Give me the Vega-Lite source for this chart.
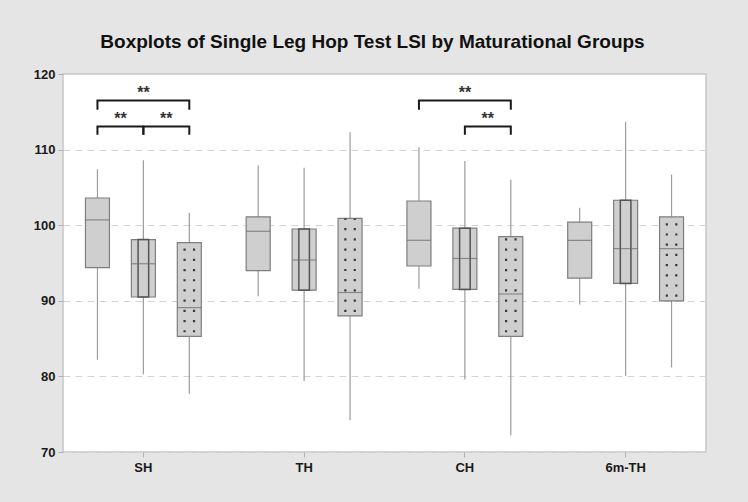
{
  "$schema": "https://vega.github.io/schema/vega-lite/v6.json",
  "width": 643,
  "height": 378,
  "autosize": {"type": "none"},
  "padding": {"left": 63, "top": 74, "right": 42, "bottom": 50},
  "background": "#e5e5e5",
  "title": {
    "text": "Boxplots of Single Leg Hop Test LSI by Maturational Groups",
    "font": "Liberation Sans",
    "fontSize": 19,
    "fontWeight": "bold",
    "color": "#111111",
    "anchor": "middle",
    "dx": -12,
    "offset": 16
  },
  "config": {
    "view": {"stroke": "#c6c6c6", "strokeWidth": 1.5, "fill": "white"},
    "axisY": {
      "labelFont": "Liberation Sans",
      "labelFontSize": 13,
      "labelFontWeight": "bold",
      "labelColor": "#1a1a1a",
      "labelPadding": 3,
      "tickColor": "#b0b0b0",
      "tickSize": 5,
      "domain": false,
      "grid": true,
      "gridDash": [7, 5],
      "gridColor": "#d4d4d4",
      "title": null
    },
    "axisX": {
      "labelFont": "Liberation Sans",
      "labelFontSize": 13,
      "labelFontWeight": "bold",
      "labelColor": "#1a1a1a",
      "labelPadding": 4,
      "labelAngle": 0,
      "tickColor": "#b0b0b0",
      "tickSize": 5,
      "domain": false,
      "grid": false,
      "title": null
    }
  },
  "datasets": {
    "boxes": [
      {"test": "SH", "grp": "Pre", "min": 82.2, "q1": 94.4, "median": 100.7, "q3": 103.6, "max": 107.4},
      {"test": "SH", "grp": "Mid", "min": 80.3, "q1": 90.5, "median": 94.9, "q3": 98.1, "max": 108.6},
      {"test": "SH", "grp": "Post", "min": 77.7, "q1": 85.3, "median": 89.1, "q3": 97.7, "max": 101.6},
      {"test": "TH", "grp": "Pre", "min": 90.6, "q1": 94.0, "median": 99.2, "q3": 101.1, "max": 107.9},
      {"test": "TH", "grp": "Mid", "min": 79.4, "q1": 91.4, "median": 95.4, "q3": 99.5, "max": 107.6},
      {"test": "TH", "grp": "Post", "min": 74.2, "q1": 88.0, "median": 91.1, "q3": 100.9, "max": 112.3},
      {"test": "CH", "grp": "Pre", "min": 91.6, "q1": 94.6, "median": 98.0, "q3": 103.2, "max": 110.3},
      {"test": "CH", "grp": "Mid", "min": 79.6, "q1": 91.5, "median": 95.6, "q3": 99.6, "max": 108.5},
      {"test": "CH", "grp": "Post", "min": 72.2, "q1": 85.3, "median": 90.9, "q3": 98.5, "max": 106.0},
      {"test": "6m-TH", "grp": "Pre", "min": 89.5, "q1": 93.0, "median": 98.0, "q3": 100.4, "max": 102.3},
      {"test": "6m-TH", "grp": "Mid", "min": 80.1, "q1": 92.3, "median": 96.9, "q3": 103.3, "max": 113.7},
      {"test": "6m-TH", "grp": "Post", "min": 81.2, "q1": 90.0, "median": 96.9, "q3": 101.1, "max": 106.7}
    ],
    "brackets": [
      {"id": "SH-a", "test": "SH", "grp": "Pre", "y": 115.4, "ord": 1},
      {"id": "SH-a", "test": "SH", "grp": "Pre", "y": 116.5, "ord": 2},
      {"id": "SH-a", "test": "SH", "grp": "Post", "y": 116.5, "ord": 3},
      {"id": "SH-a", "test": "SH", "grp": "Post", "y": 115.4, "ord": 4},
      {"id": "SH-b", "test": "SH", "grp": "Pre", "y": 112.1, "ord": 1},
      {"id": "SH-b", "test": "SH", "grp": "Pre", "y": 113.05, "ord": 2},
      {"id": "SH-b", "test": "SH", "grp": "Mid", "y": 113.05, "ord": 3},
      {"id": "SH-b", "test": "SH", "grp": "Mid", "y": 112.1, "ord": 4},
      {"id": "SH-c", "test": "SH", "grp": "Mid", "y": 112.1, "ord": 1},
      {"id": "SH-c", "test": "SH", "grp": "Mid", "y": 113.05, "ord": 2},
      {"id": "SH-c", "test": "SH", "grp": "Post", "y": 113.05, "ord": 3},
      {"id": "SH-c", "test": "SH", "grp": "Post", "y": 112.1, "ord": 4},
      {"id": "CH-a", "test": "CH", "grp": "Pre", "y": 115.4, "ord": 1},
      {"id": "CH-a", "test": "CH", "grp": "Pre", "y": 116.5, "ord": 2},
      {"id": "CH-a", "test": "CH", "grp": "Post", "y": 116.5, "ord": 3},
      {"id": "CH-a", "test": "CH", "grp": "Post", "y": 115.4, "ord": 4},
      {"id": "CH-b", "test": "CH", "grp": "Mid", "y": 112.1, "ord": 1},
      {"id": "CH-b", "test": "CH", "grp": "Mid", "y": 113.05, "ord": 2},
      {"id": "CH-b", "test": "CH", "grp": "Post", "y": 113.05, "ord": 3},
      {"id": "CH-b", "test": "CH", "grp": "Post", "y": 112.1, "ord": 4}
    ],
    "stars": [
      {"test": "SH", "grp": "Mid", "y": 117.5, "label": "**"},
      {"test": "SH", "grp": "Pre-Mid", "y": 114.1, "label": "**"},
      {"test": "SH", "grp": "Mid-Post", "y": 114.1, "label": "**"},
      {"test": "CH", "grp": "Mid", "y": 117.5, "label": "**"},
      {"test": "CH", "grp": "Mid-Post", "y": 114.1, "label": "**"}
    ]
  },
  "encoding": {
    "x": {
      "field": "test",
      "type": "nominal",
      "sort": null,
      "scale": {"domain": ["SH", "TH", "CH", "6m-TH"], "paddingInner": 0, "paddingOuter": 0}
    },
    "xOffset": {
      "field": "grp",
      "type": "nominal",
      "scale": {"type": "band", "domain": ["Pre", "Pre-Mid", "Mid", "Mid-Post", "Post"], "paddingInner": 0, "paddingOuter": 1.08}
    }
  },
  "resolve": {"scale": {"xOffset": "independent"}},
  "layer": [
    {
      "data": {"name": "boxes"},
      "mark": {"type": "rule", "color": "#9c9c9c", "strokeWidth": 1.2},
      "encoding": {
        "y": {"field": "min", "type": "quantitative", "scale": {"domain": [70, 120], "nice": false, "zero": false}, "axis": {"values": [70, 80, 90, 100, 110, 120]}},
        "y2": {"field": "max"}
      }
    },
    {
      "data": {"name": "boxes"},
      "mark": {"type": "bar", "width": 24, "fill": "#cfcfcf", "stroke": "#7e7e7e", "strokeWidth": 1.2},
      "encoding": {
        "y": {"field": "q1", "type": "quantitative"},
        "y2": {"field": "q3"}
      }
    },
    {
      "data": {"name": "boxes"},
      "transform": [{"filter": "datum.grp === 'Mid'"}],
      "mark": {"type": "bar", "width": 10.6, "fill": null, "fillOpacity": 0, "stroke": "#555555", "strokeWidth": 1.5},
      "encoding": {
        "y": {"field": "q1", "type": "quantitative"},
        "y2": {"field": "q3"}
      }
    },
    {
      "data": {"name": "boxes"},
      "transform": [{"filter": "datum.grp === 'Post'"}],
      "mark": {"type": "rule", "color": "#3a3a3a", "strokeWidth": 2.2, "strokeDash": [2.2, 8], "strokeDashOffset": -4},
      "encoding": {
        "xOffset": {
          "field": "grp",
          "type": "nominal",
          "scale": {"type": "band", "domain": ["Pre", "Pre-Mid", "Mid", "Mid-Post", "Post"], "paddingInner": 0, "paddingOuter": 1.08, "align": 0.397}
        },
        "y": {"field": "q1", "type": "quantitative"},
        "y2": {"field": "q3"}
      }
    },
    {
      "data": {"name": "boxes"},
      "transform": [{"filter": "datum.grp === 'Post'"}],
      "mark": {"type": "rule", "color": "#3a3a3a", "strokeWidth": 2.2, "strokeDash": [2.2, 8], "strokeDashOffset": -4},
      "encoding": {
        "xOffset": {
          "field": "grp",
          "type": "nominal",
          "scale": {"type": "band", "domain": ["Pre", "Pre-Mid", "Mid", "Mid-Post", "Post"], "paddingInner": 0, "paddingOuter": 1.08, "align": 0.603}
        },
        "y": {"field": "q1", "type": "quantitative"},
        "y2": {"field": "q3"}
      }
    },
    {
      "data": {"name": "boxes"},
      "mark": {"type": "tick", "size": 24, "thickness": 1.2, "color": "#6a6a6a"},
      "encoding": {
        "y": {"field": "median", "type": "quantitative"}
      }
    },
    {
      "data": {"name": "brackets"},
      "mark": {"type": "line", "color": "#1a1a1a", "strokeWidth": 2, "strokeCap": "square"},
      "encoding": {
        "y": {"field": "y", "type": "quantitative"},
        "detail": {"field": "id"},
        "order": {"field": "ord", "type": "quantitative"}
      }
    },
    {
      "data": {"name": "stars"},
      "mark": {"type": "text", "font": "Liberation Sans", "fontSize": 16, "fontWeight": "bold", "color": "#333333", "baseline": "middle"},
      "encoding": {
        "y": {"field": "y", "type": "quantitative"},
        "text": {"field": "label"}
      }
    }
  ]
}
